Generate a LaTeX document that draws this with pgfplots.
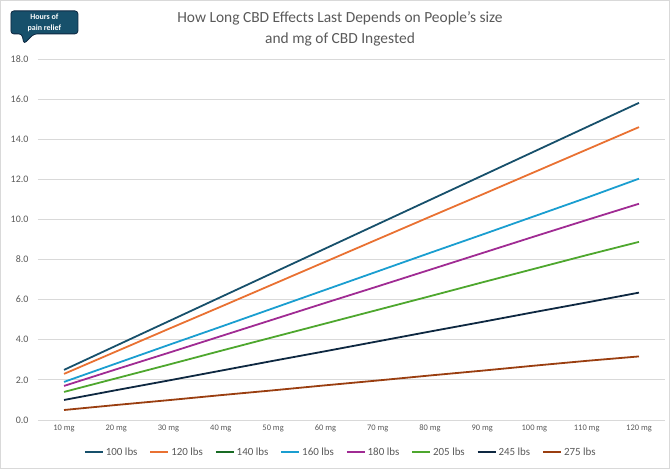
\documentclass[border=0pt]{standalone}
\usepackage{fontspec}
\setmainfont{Carlito}
\usepackage{pgfplots}
\pgfplotsset{compat=1.18}
\definecolor{c100}{HTML}{17506B}
\definecolor{c120}{HTML}{E97132}
\definecolor{c140}{HTML}{196B24}
\definecolor{c160}{HTML}{1A9ED0}
\definecolor{c180}{HTML}{A02B93}
\definecolor{c205}{HTML}{4EA72E}
\definecolor{c245}{HTML}{0E2841}
\definecolor{c275}{HTML}{9A3E10}
\definecolor{txtgray}{HTML}{595959}
\definecolor{gridgray}{HTML}{D9D9D9}
\pgfplotsset{shortline/.style={legend image code/.code={\draw[##1] (0bp,0bp) -- (18bp,0bp);}}}
\begin{document}
\begin{tikzpicture}[x=1bp,y=1bp]
\draw[color=gridgray, line width=0.8bp] (0.5,0.5) rectangle (669.5,468.5);
\begin{axis}[
  at={(38bp,49bp)}, anchor=south west,
  scale only axis, width=627bp, height=361bp,
  xmin=-0.5, xmax=11.5, ymin=0, ymax=18,
  xtick={0,...,11},
  xticklabels={10 mg,20 mg,30 mg,40 mg,50 mg,60 mg,70 mg,80 mg,90 mg,100 mg,110 mg,120 mg},
  ytick={0,2,...,18},
  ymajorgrids, grid style={gridgray, line width=0.8bp},
  axis line style={draw=none}, tick style={draw=none},
  /pgf/number format/assume math mode=true,
  yticklabel={\pgfmathprintnumber[fixed,fixed zerofill,precision=1]{\tick}},
  yticklabel style={font=\fontsize{10}{12}\selectfont, text=txtgray, xshift=-6bp},
  xticklabel style={font=\fontsize{8.5}{10}\selectfont, text=txtgray, yshift=-1.5bp},
  shortline,
  legend columns=8,
  legend style={at={(0.483,-0.0886)}, anchor=center, draw=none, fill=none,
    font=\fontsize{11}{13}\selectfont, text=txtgray,
    /tikz/every even column/.append style={column sep=10bp}},
  every axis plot/.append style={line width=1.8bp},
]
\addplot[color=c100] coordinates {(0,2.5)(1,3.71)(2,4.92)(3,6.13)(4,7.34)(5,8.55)(6,9.76)(7,10.97)(8,12.18)(9,13.39)(10,14.6)(11,15.81)};
\addlegendentry{100 lbs}
\addplot[color=c120] coordinates {(0,2.3)(1,3.42)(2,4.54)(3,5.65)(4,6.77)(5,7.89)(6,9.01)(7,10.13)(8,11.24)(9,12.36)(10,13.48)(11,14.6)};
\addlegendentry{120 lbs}
\addlegendimage{color=c140, line width=1.8bp}
\addlegendentry{140 lbs}
\addplot[color=c160] coordinates {(0,1.9)(1,2.82)(2,3.74)(3,4.65)(4,5.57)(5,6.49)(6,7.41)(7,8.33)(8,9.24)(9,10.16)(10,11.08)(11,12.03)};
\addlegendentry{160 lbs}
\addplot[color=c180] coordinates {(0,1.7)(1,2.53)(2,3.35)(3,4.18)(4,5.01)(5,5.84)(6,6.66)(7,7.49)(8,8.32)(9,9.15)(10,9.97)(11,10.78)};
\addlegendentry{180 lbs}
\addplot[color=c205] coordinates {(0,1.4)(1,2.08)(2,2.76)(3,3.45)(4,4.13)(5,4.81)(6,5.49)(7,6.17)(8,6.86)(9,7.54)(10,8.22)(11,8.88)};
\addlegendentry{205 lbs}
\addplot[color=c245] coordinates {(0,1.0)(1,1.49)(2,1.97)(3,2.46)(4,2.95)(5,3.43)(6,3.92)(7,4.41)(8,4.89)(9,5.38)(10,5.86)(11,6.35)};
\addlegendentry{245 lbs}
\addplot[color=c275] coordinates {(0,0.5)(1,0.75)(2,0.99)(3,1.24)(4,1.48)(5,1.73)(6,1.97)(7,2.22)(8,2.46)(9,2.71)(10,2.95)(11,3.17)};
\addlegendentry{275 lbs}
\end{axis}
\node[font=\fontsize{15.5}{18}\selectfont, text=txtgray] at (340,451) {How Long CBD Effects Last Depends on People's size};
\node[font=\fontsize{15.5}{18}\selectfont, text=txtgray] at (340,429) {and mg of CBD Ingested};
\draw[fill=c100, draw=c245, line width=0.8bp, rounded corners=3bp]
  (11,458) -- (78,458) -- (78,435) -- (34,435) -- (24,425) -- (22,435) -- (11,435) -- cycle;
\node[font=\bfseries\fontsize{8}{9}\selectfont, text=white] at (44.5,452) {Hours of};
\node[font=\bfseries\fontsize{8}{9}\selectfont, text=white] at (44.5,441) {pain relief};
\end{tikzpicture}
\end{document}
